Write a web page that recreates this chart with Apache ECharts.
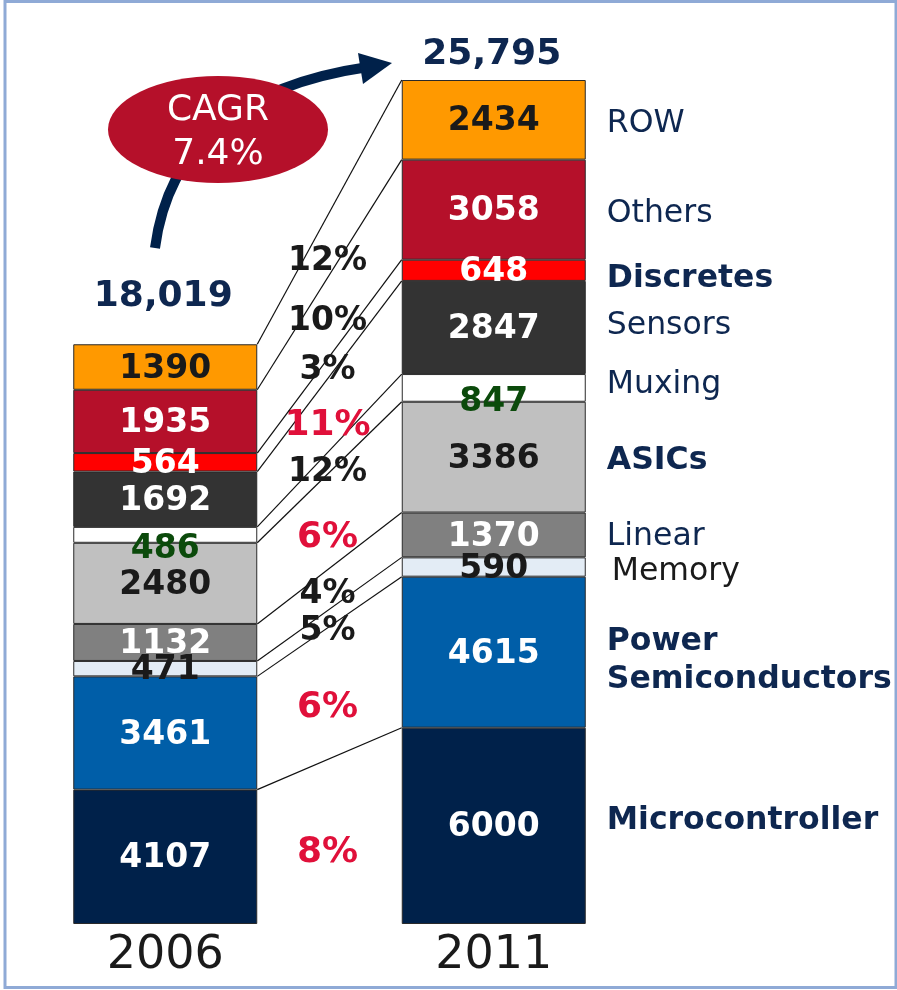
<!DOCTYPE html>
<html>
<head>
<meta charset="utf-8">
<script src="https://cdn.jsdelivr.net/npm/echarts@6/dist/echarts.min.js"></script>
<style>html,body{margin:0;padding:0;background:#fff}#chart{width:897px;height:990px}</style>
</head>
<body>
<div id="chart"></div>
<script>
// ---- data ----
const years = ['2006', '2011'];
const segments = ['Microcontroller', 'Power\nSemiconductors', 'Memory', 'Linear', 'ASICs', 'Muxing', 'Sensors', 'Discretes', 'Others', 'ROW'];
const values2006 = [4107, 3461, 471, 1132, 2480, 486, 1692, 564, 1935, 1390];
const values2011 = [6000, 4615, 590, 1370, 3386, 847, 2847, 648, 3058, 2434];
const growthLabels = ['8%', '6%', '5%', '4%', '6%', '12%', '11%', '3%', '10%', '12%'];
const totalLabels = ['18,019', '25,795'];
const cagrLines = ['CAGR', '7.4%'];

// ---- styles ----
const FONT = 'DejaVu Sans';
const NAVY = '#0e2750';
const segColors = ['#00214a', '#005ea8', '#e3ecf5', '#808080', '#c0c0c0', '#ffffff', '#333333', '#ff0000', '#b5102a', '#ff9900'];
const valueColors = ['#ffffff', '#ffffff', '#1a1a1a', '#ffffff', '#1a1a1a', '#0b4a0b', '#ffffff', '#ffffff', '#ffffff', '#1a1a1a'];
const valueOffsets = [2, 2, 2, 2, 2, 15, 2, 2, 2, 2];
const growthRed = [true, true, false, false, true, false, true, false, false, false];
const growthDy = [2, 6, 5, -3, 8, 2, 3, -5, -3, 9];
const nameBold = [true, true, false, false, true, false, false, true, false, false];
const nameColor = [NAVY, NAVY, '#1a1a1a', NAVY, NAVY, NAVY, NAVY, NAVY, NAVY, NAVY];
const nameDx = [0, 0, 5, 0, 0, 0, 0, 0, 0, 0];
const nameDy = [-5, 9, 5, 2, 4, -3, -2, 9, 4, 4];
const BAR_W = 184;

function cum(arr, i) { let s = 0; for (let k = 0; k <= i; k++) s += arr[k]; return s; }
const sum2006 = cum(values2006, values2006.length - 1);
const sum2011 = cum(values2011, values2011.length - 1);
const yMax = Math.max(sum2006, sum2011);

const barSeries = segments.map((name, i) => ({
  type: 'bar',
  name: name,
  stack: 'total',
  barWidth: BAR_W,
  data: [values2006[i], values2011[i]],
  itemStyle: { color: segColors[i], borderColor: '#2a2a2a', borderWidth: 1 },
  label: {
    show: true,
    position: 'inside',
    offset: [0, valueOffsets[i]],
    formatter: p => String(p.value),
    color: valueColors[i],
    fontFamily: FONT,
    fontWeight: 'bold',
    fontSize: 33
  },
  z: 3
}));

// connectors + growth labels
const connectorSeries = {
  type: 'custom',
  z: 2,
  silent: true,
  data: segments.map((s, i) => [0, 0, i]),
  encode: { x: 0, y: 1 },
  renderItem: function (params, api) {
    const i = params.dataIndex;
    const half = BAR_W / 2;
    const l = api.coord([0, cum(values2006, i)]);
    const r = api.coord([1, cum(values2011, i)]);
    const lp = api.coord([0, i > 0 ? cum(values2006, i - 1) : 0]);
    const rp = api.coord([1, i > 0 ? cum(values2011, i - 1) : 0]);
    const x1 = l[0] + half, x2 = r[0] - half;
    const midTop = (l[1] + r[1]) / 2;
    const midBot = (lp[1] + rp[1]) / 2;
    const red = growthRed[i];
    return {
      type: 'group',
      children: [
        { type: 'line', shape: { x1: x1, y1: l[1], x2: x2, y2: r[1] }, style: { stroke: '#111111', lineWidth: 1.2 } },
        { type: 'text', style: {
            text: growthLabels[i], x: (x1 + x2) / 2 - 2, y: (midTop + midBot) / 2 + 9 + growthDy[i],
            align: 'center', verticalAlign: 'middle',
            fontFamily: FONT, fontWeight: 'bold', fontSize: red ? 36 : 33,
            fill: red ? '#e0103a' : '#1a1a1a' } }
      ]
    };
  }
};

// segment names at right of 2011 bar
const nameSeries = {
  type: 'custom',
  z: 4,
  silent: true,
  data: segments.map((s, i) => [1, 0, i]),
  encode: { x: 0, y: 1 },
  renderItem: function (params, api) {
    const i = params.dataIndex;
    const top = cum(values2011, i);
    const bot = i > 0 ? cum(values2011, i - 1) : 0;
    const p = api.coord([1, (top + bot) / 2]);
    return {
      type: 'text',
      style: {
        text: segments[i], x: p[0] + BAR_W / 2 + 21 + nameDx[i], y: p[1] + nameDy[i],
        align: 'left', verticalAlign: 'middle', lineHeight: 38,
        fontFamily: FONT, fontWeight: nameBold[i] ? 'bold' : 'normal', fontSize: 31.5,
        fill: nameColor[i]
      }
    };
  }
};

// totals above bars
const totalOffsets = [48, 25];
const totalSeries = {
  type: 'custom',
  z: 4,
  silent: true,
  data: years.map((y, i) => [i, 0]),
  encode: { x: 0, y: 1 },
  renderItem: function (params, api) {
    const i = params.dataIndex;
    const s = i === 0 ? sum2006 : sum2011;
    const p = api.coord([i, s]);
    return {
      type: 'text',
      style: {
        text: totalLabels[i], x: p[0] - 2, y: p[1] - totalOffsets[i],
        align: 'center', verticalAlign: 'middle',
        fontFamily: FONT, fontWeight: 'bold', fontSize: 36, fill: NAVY
      }
    };
  }
};

const chart = echarts.init(document.getElementById('chart'), null, { renderer: 'canvas' });
chart.setOption({
  animation: false,
  backgroundColor: '#ffffff',
  grid: { left: 1, right: 239, top: 80, bottom: 66, containLabel: false },
  xAxis: {
    type: 'category',
    data: years,
    axisLine: { show: false },
    axisTick: { show: false },
    axisLabel: { fontFamily: FONT, fontSize: 46, color: '#1a1a1a', margin: 8, lineHeight: 48 }
  },
  yAxis: { type: 'value', min: 0, max: yMax, show: false, splitLine: { show: false } },
  series: barSeries.concat([connectorSeries, nameSeries, totalSeries]),
  graphic: [
    { type: 'rect', z: 100, silent: true, shape: { x: 5, y: 1.5, width: 891, height: 986 },
      style: { fill: null, stroke: '#8faad6', lineWidth: 3 } },
    { type: 'bezierCurve', z: 10, silent: true,
      shape: { x1: 155, y1: 248, cpx1: 175, cpy1: 95, x2: 368, y2: 67 },
      style: { stroke: '#00214a', lineWidth: 10, fill: null } },
    { type: 'polygon', z: 10, silent: true,
      shape: { points: [[358, 53], [392, 63], [363, 84]] },
      style: { fill: '#00214a' } },
    { type: 'circle', z: 11, silent: true, x: 218, y: 129.5, scaleX: 110 / 53.5, scaleY: 1,
      shape: { cx: 0, cy: 0, r: 53.5 }, style: { fill: '#b5102a' } },
    { type: 'text', z: 12, silent: true, x: 218, y: 111,
      style: { text: cagrLines[0], align: 'center', verticalAlign: 'middle', fontFamily: FONT, fontSize: 36, fill: '#ffffff' } },
    { type: 'text', z: 12, silent: true, x: 218, y: 155,
      style: { text: cagrLines[1], align: 'center', verticalAlign: 'middle', fontFamily: FONT, fontSize: 36, fill: '#ffffff' } }
  ]
});
</script>
</body>
</html>
